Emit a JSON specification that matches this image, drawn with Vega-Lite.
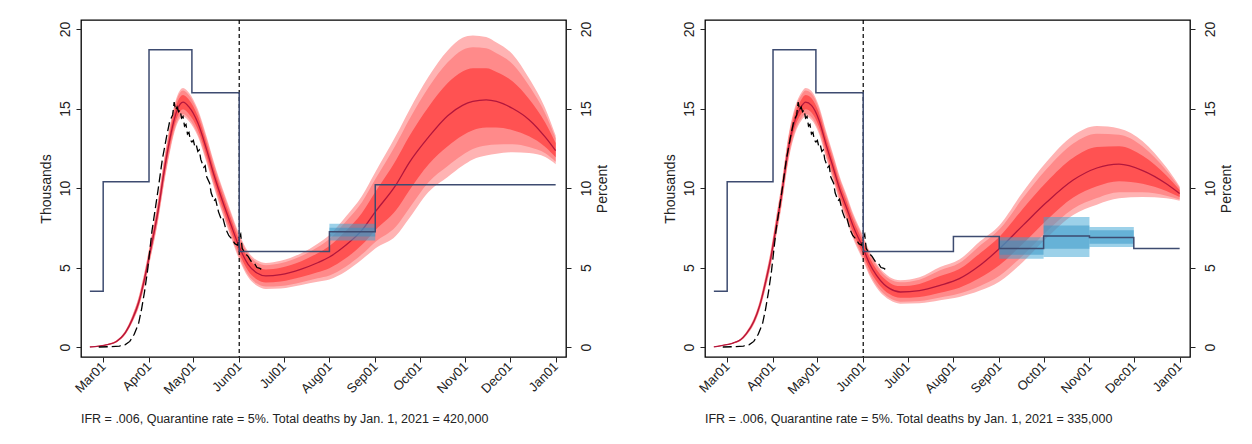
{
"$schema":"https://vega.github.io/schema/vega-lite/v6.json",
"padding":{"left":38,"top":18,"right":5,"bottom":5},
"background":"white",
"config":{"view":{"stroke":"#000","strokeWidth":1.3},"font":"Liberation Sans","axis":{"labelColor":"#222","tickColor":"#222","titleColor":"#222","titleFontWeight":"normal","grid":false,"domain":false,"labelFont":"Liberation Sans","titleFont":"Liberation Sans"}},
"datasets":{
"predA":[
{"date":"2020-02-21","med":0,"olo":0,"ohi":0.02,"mlo":0,"mhi":0.02,"ilo":0,"ihi":0.01},
{"date":"2020-02-27","med":0.05,"olo":0.03,"ohi":0.07,"mlo":0.03,"mhi":0.07,"ilo":0.04,"ihi":0.06},
{"date":"2020-03-04","med":0.15,"olo":0.12,"ohi":0.19,"mlo":0.13,"mhi":0.18,"ilo":0.14,"ihi":0.17},
{"date":"2020-03-10","med":0.35,"olo":0.29,"ohi":0.42,"mlo":0.3,"mhi":0.41,"ilo":0.32,"ihi":0.39},
{"date":"2020-03-16","med":0.9,"olo":0.78,"ohi":1.03,"mlo":0.8,"mhi":1.01,"ilo":0.84,"ihi":0.97},
{"date":"2020-03-21","med":1.8,"olo":1.6,"ohi":2.05,"mlo":1.64,"mhi":2.01,"ilo":1.7,"ihi":1.93},
{"date":"2020-03-25","med":2.8,"olo":2.48,"ohi":3.15,"mlo":2.54,"mhi":3.09,"ilo":2.64,"ihi":2.98},
{"date":"2020-03-29","med":4.3,"olo":3.87,"ohi":4.75,"mlo":3.95,"mhi":4.67,"ilo":4.09,"ihi":4.53},
{"date":"2020-04-02","med":6.1,"olo":5.57,"ohi":6.66,"mlo":5.67,"mhi":6.56,"ilo":5.84,"ihi":6.38},
{"date":"2020-04-07","med":8.5,"olo":7.85,"ohi":9.2,"mlo":7.97,"mhi":9.07,"ilo":8.18,"ihi":8.85},
{"date":"2020-04-12","med":11.5,"olo":10.72,"ohi":12.3,"mlo":10.86,"mhi":12.16,"ilo":11.11,"ihi":11.9},
{"date":"2020-04-16","med":13.5,"olo":12.65,"ohi":14.35,"mlo":12.8,"mhi":14.2,"ilo":13.08,"ihi":13.93},
{"date":"2020-04-20","med":14.9,"olo":14.02,"ohi":15.78,"mlo":14.18,"mhi":15.62,"ilo":14.46,"ihi":15.34},
{"date":"2020-04-24","med":15.4,"olo":14.5,"ohi":16.3,"mlo":14.66,"mhi":16.14,"ilo":14.95,"ihi":15.85},
{"date":"2020-04-28","med":15.1,"olo":14.2,"ohi":16.0,"mlo":14.36,"mhi":15.84,"ilo":14.65,"ihi":15.55},
{"date":"2020-05-04","med":14.1,"olo":13.25,"ohi":14.95,"mlo":13.4,"mhi":14.8,"ilo":13.68,"ihi":14.53},
{"date":"2020-05-10","med":12.4,"olo":11.57,"ohi":13.23,"mlo":11.72,"mhi":13.08,"ilo":11.99,"ihi":12.82},
{"date":"2020-05-15","med":10.8,"olo":10.0,"ohi":11.6,"mlo":10.14,"mhi":11.46,"ilo":10.4,"ihi":11.2},
{"date":"2020-05-21","med":9.1,"olo":8.3,"ohi":9.9,"mlo":8.44,"mhi":9.76,"ilo":8.7,"ihi":9.5},
{"date":"2020-05-26","med":7.8,"olo":7.0,"ohi":8.6,"mlo":7.14,"mhi":8.46,"ilo":7.4,"ihi":8.2},
{"date":"2020-06-01","med":6.3,"olo":5.5,"ohi":7.1,"mlo":5.64,"mhi":6.96,"ilo":5.9,"ihi":6.7},
{"date":"2020-06-07","med":5.2,"olo":4.4,"ohi":6.0,"mlo":4.54,"mhi":5.86,"ilo":4.8,"ihi":5.6},
{"date":"2020-06-13","med":4.65,"olo":3.85,"ohi":5.45,"mlo":3.99,"mhi":5.31,"ilo":4.25,"ihi":5.05},
{"date":"2020-06-19","med":4.47,"olo":3.65,"ohi":5.29,"mlo":3.8,"mhi":5.14,"ilo":4.06,"ihi":4.88},
{"date":"2020-06-29","med":4.55,"olo":3.68,"ohi":5.42,"mlo":3.84,"mhi":5.26,"ilo":4.12,"ihi":4.99},
{"date":"2020-07-13","med":4.9,"olo":3.9,"ohi":5.9,"mlo":4.08,"mhi":5.72,"ilo":4.4,"ihi":5.4},
{"date":"2020-07-24","med":5.3,"olo":4.1,"ohi":6.5,"mlo":4.32,"mhi":6.28,"ilo":4.7,"ihi":5.9},
{"date":"2020-08-01","med":5.66,"olo":4.25,"ohi":7.05,"mlo":4.5,"mhi":6.8,"ilo":4.96,"ihi":6.36},
{"date":"2020-08-12","med":6.4,"olo":4.75,"ohi":8.2,"mlo":5.05,"mhi":7.88,"ilo":5.58,"ihi":7.3},
{"date":"2020-08-23","med":7.35,"olo":5.5,"ohi":9.5,"mlo":5.83,"mhi":9.11,"ilo":6.43,"ihi":8.43},
{"date":"2020-09-01","med":8.5,"olo":6.2,"ohi":11.0,"mlo":6.61,"mhi":10.55,"ilo":7.35,"ihi":9.75},
{"date":"2020-09-15","med":10.2,"olo":7.0,"ohi":13.3,"mlo":7.58,"mhi":12.74,"ilo":8.6,"ihi":11.75},
{"date":"2020-09-24","med":11.6,"olo":8.1,"ohi":14.9,"mlo":8.73,"mhi":14.31,"ilo":9.85,"ihi":13.25},
{"date":"2020-10-07","med":13.2,"olo":9.75,"ohi":17.0,"mlo":10.37,"mhi":16.32,"ilo":11.48,"ihi":15.1},
{"date":"2020-10-20","med":14.55,"olo":10.7,"ohi":18.65,"mlo":11.39,"mhi":17.91,"ilo":12.63,"ihi":16.6},
{"date":"2020-10-30","med":15.2,"olo":11.4,"ohi":19.45,"mlo":12.08,"mhi":18.69,"ilo":13.3,"ihi":17.33},
{"date":"2020-11-06","med":15.45,"olo":11.8,"ohi":19.6,"mlo":12.46,"mhi":18.85,"ilo":13.63,"ihi":17.53},
{"date":"2020-11-15","med":15.55,"olo":12.05,"ohi":19.5,"mlo":12.68,"mhi":18.79,"ilo":13.8,"ihi":17.53},
{"date":"2020-11-22","med":15.45,"olo":12.15,"ohi":19.15,"mlo":12.74,"mhi":18.48,"ilo":13.8,"ihi":17.3},
{"date":"2020-12-03","med":15.0,"olo":12.25,"ohi":18.4,"mlo":12.75,"mhi":17.79,"ilo":13.63,"ihi":16.7},
{"date":"2020-12-14","med":14.3,"olo":12.2,"ohi":16.9,"mlo":12.58,"mhi":16.43,"ilo":13.25,"ihi":15.6},
{"date":"2020-12-25","med":13.2,"olo":11.95,"ohi":15.0,"mlo":12.18,"mhi":14.68,"ilo":12.58,"ihi":14.1},
{"date":"2021-01-01","med":12.35,"olo":11.5,"ohi":13.3,"mlo":11.65,"mhi":13.13,"ilo":11.93,"ihi":12.83}
],
"predB":[
{"date":"2020-02-21","med":0,"olo":0,"ohi":0.02,"mlo":0,"mhi":0.02,"ilo":0,"ihi":0.01},
{"date":"2020-02-27","med":0.1,"olo":0.08,"ohi":0.12,"mlo":0.08,"mhi":0.12,"ilo":0.09,"ihi":0.11},
{"date":"2020-03-05","med":0.25,"olo":0.21,"ohi":0.29,"mlo":0.22,"mhi":0.28,"ilo":0.23,"ihi":0.27},
{"date":"2020-03-10","med":0.45,"olo":0.38,"ohi":0.52,"mlo":0.39,"mhi":0.51,"ilo":0.42,"ihi":0.49},
{"date":"2020-03-14","med":0.84,"olo":0.73,"ohi":0.96,"mlo":0.75,"mhi":0.94,"ilo":0.79,"ihi":0.9},
{"date":"2020-03-19","med":1.6,"olo":1.42,"ohi":1.8,"mlo":1.45,"mhi":1.76,"ilo":1.51,"ihi":1.7},
{"date":"2020-03-23","med":2.6,"olo":2.33,"ohi":2.9,"mlo":2.38,"mhi":2.85,"ilo":2.47,"ihi":2.75},
{"date":"2020-03-27","med":4.1,"olo":3.7,"ohi":4.5,"mlo":3.77,"mhi":4.43,"ilo":3.9,"ihi":4.3},
{"date":"2020-03-30","med":5.35,"olo":4.88,"ohi":5.84,"mlo":4.96,"mhi":5.75,"ilo":5.12,"ihi":5.6},
{"date":"2020-04-03","med":7.5,"olo":6.9,"ohi":8.12,"mlo":7.0,"mhi":8.01,"ilo":7.2,"ihi":7.81},
{"date":"2020-04-06","med":9.1,"olo":8.42,"ohi":9.8,"mlo":8.54,"mhi":9.67,"ilo":8.76,"ihi":9.45},
{"date":"2020-04-12","med":12.8,"olo":12.0,"ohi":13.6,"mlo":12.14,"mhi":13.46,"ilo":12.4,"ihi":13.2},
{"date":"2020-04-16","med":14.3,"olo":13.45,"ohi":15.15,"mlo":13.6,"mhi":15.0,"ilo":13.88,"ihi":14.73},
{"date":"2020-04-20","med":15.1,"olo":14.22,"ohi":15.98,"mlo":14.38,"mhi":15.82,"ilo":14.66,"ihi":15.54},
{"date":"2020-04-23","med":15.4,"olo":14.5,"ohi":16.3,"mlo":14.66,"mhi":16.14,"ilo":14.95,"ihi":15.85},
{"date":"2020-04-27","med":15.2,"olo":14.3,"ohi":16.1,"mlo":14.46,"mhi":15.94,"ilo":14.75,"ihi":15.65},
{"date":"2020-05-02","med":14.3,"olo":13.43,"ohi":15.17,"mlo":13.59,"mhi":15.01,"ilo":13.87,"ihi":14.74},
{"date":"2020-05-07","med":12.7,"olo":11.85,"ohi":13.55,"mlo":12.0,"mhi":13.4,"ilo":12.28,"ihi":13.13},
{"date":"2020-05-12","med":11.2,"olo":10.38,"ohi":12.02,"mlo":10.53,"mhi":11.87,"ilo":10.79,"ihi":11.61},
{"date":"2020-05-16","med":9.96,"olo":9.16,"ohi":10.76,"mlo":9.3,"mhi":10.62,"ilo":9.56,"ihi":10.36},
{"date":"2020-05-21","med":8.7,"olo":7.9,"ohi":9.5,"mlo":8.04,"mhi":9.36,"ilo":8.3,"ihi":9.1},
{"date":"2020-05-25","med":7.65,"olo":6.85,"ohi":8.45,"mlo":6.99,"mhi":8.31,"ilo":7.25,"ihi":8.05},
{"date":"2020-06-01","med":6.2,"olo":5.42,"ohi":6.98,"mlo":5.56,"mhi":6.84,"ilo":5.81,"ihi":6.59},
{"date":"2020-06-05","med":5.3,"olo":4.53,"ohi":6.07,"mlo":4.67,"mhi":5.93,"ilo":4.92,"ihi":5.69},
{"date":"2020-06-10","med":4.5,"olo":3.75,"ohi":5.25,"mlo":3.89,"mhi":5.12,"ilo":4.13,"ihi":4.88},
{"date":"2020-06-15","med":3.95,"olo":3.22,"ohi":4.68,"mlo":3.35,"mhi":4.55,"ilo":3.59,"ihi":4.32},
{"date":"2020-06-19","med":3.67,"olo":2.95,"ohi":4.39,"mlo":3.08,"mhi":4.26,"ilo":3.31,"ihi":4.03},
{"date":"2020-06-26","med":3.46,"olo":2.72,"ohi":4.2,"mlo":2.85,"mhi":4.07,"ilo":3.09,"ihi":3.83},
{"date":"2020-07-09","med":3.55,"olo":2.75,"ohi":4.38,"mlo":2.89,"mhi":4.23,"ilo":3.15,"ihi":3.97},
{"date":"2020-07-23","med":3.88,"olo":2.94,"ohi":5.03,"mlo":3.11,"mhi":4.82,"ilo":3.41,"ihi":4.46},
{"date":"2020-08-05","med":4.3,"olo":3.15,"ohi":5.5,"mlo":3.36,"mhi":5.28,"ilo":3.73,"ihi":4.9},
{"date":"2020-08-19","med":5.14,"olo":3.55,"ohi":6.65,"mlo":3.84,"mhi":6.38,"ilo":4.35,"ihi":5.9},
{"date":"2020-09-01","med":6.18,"olo":4.1,"ohi":7.65,"mlo":4.47,"mhi":7.39,"ilo":5.14,"ihi":6.92},
{"date":"2020-09-17","med":7.65,"olo":5.35,"ohi":9.75,"mlo":5.76,"mhi":9.37,"ilo":6.5,"ihi":8.7},
{"date":"2020-10-03","med":9.1,"olo":6.85,"ohi":11.65,"mlo":7.26,"mhi":11.19,"ilo":7.98,"ihi":10.38},
{"date":"2020-10-21","med":10.5,"olo":8.3,"ohi":13.3,"mlo":8.7,"mhi":12.8,"ilo":9.4,"ihi":11.9},
{"date":"2020-11-06","med":11.26,"olo":8.95,"ohi":13.9,"mlo":9.37,"mhi":13.42,"ilo":10.11,"ihi":12.58},
{"date":"2020-11-21","med":11.5,"olo":9.35,"ohi":13.75,"mlo":9.74,"mhi":13.35,"ilo":10.43,"ihi":12.63},
{"date":"2020-12-07","med":11.1,"olo":9.43,"ohi":12.95,"mlo":9.73,"mhi":12.62,"ilo":10.27,"ihi":12.03},
{"date":"2020-12-23","med":10.27,"olo":9.35,"ohi":11.3,"mlo":9.52,"mhi":11.11,"ilo":9.81,"ihi":10.79},
{"date":"2021-01-01","med":9.65,"olo":9.2,"ohi":10.1,"mlo":9.28,"mhi":10.02,"ilo":9.43,"ihi":9.88}
],
"obs":[
{"date":"2020-02-27","v":0},{"date":"2020-03-06","v":0.02},{"date":"2020-03-12","v":0.06},{"date":"2020-03-16","v":0.15},
{"date":"2020-03-19","v":0.35},{"date":"2020-03-22","v":0.8},{"date":"2020-03-25","v":1.5},{"date":"2020-03-27","v":2.4},
{"date":"2020-03-29","v":3.5},{"date":"2020-03-31","v":4.8},{"date":"2020-04-03","v":7.3},{"date":"2020-04-07","v":9.8},
{"date":"2020-04-10","v":11.8},{"date":"2020-04-13","v":13.3},{"date":"2020-04-15","v":14.2},{"date":"2020-04-17","v":14.6},
{"date":"2020-04-18","v":15.4},{"date":"2020-04-19","v":14.9},{"date":"2020-04-20","v":15.1},{"date":"2020-04-21","v":14.8},
{"date":"2020-04-22","v":14.9},{"date":"2020-04-23","v":14.4},{"date":"2020-04-24","v":14.5},{"date":"2020-04-25","v":13.9},
{"date":"2020-04-26","v":14.0},{"date":"2020-04-27","v":13.4},{"date":"2020-04-28","v":13.5},{"date":"2020-04-29","v":13.0},
{"date":"2020-04-30","v":12.9},{"date":"2020-05-01","v":13.0},{"date":"2020-05-02","v":12.6},{"date":"2020-05-03","v":12.7},
{"date":"2020-05-04","v":12.3},{"date":"2020-05-05","v":12.4},{"date":"2020-05-06","v":11.8},{"date":"2020-05-08","v":11.3},
{"date":"2020-05-09","v":11.4},{"date":"2020-05-10","v":10.7},{"date":"2020-05-12","v":10.3},{"date":"2020-05-13","v":9.7},
{"date":"2020-05-15","v":9.2},{"date":"2020-05-16","v":9.3},{"date":"2020-05-18","v":8.5},{"date":"2020-05-20","v":8.0},
{"date":"2020-05-21","v":8.1},{"date":"2020-05-23","v":7.4},{"date":"2020-05-25","v":7.0},{"date":"2020-05-27","v":6.8},
{"date":"2020-05-29","v":6.5},{"date":"2020-05-31","v":6.4},{"date":"2020-06-01","v":6.9},{"date":"2020-06-02","v":7.1},
{"date":"2020-06-03","v":6.2},{"date":"2020-06-05","v":5.9},{"date":"2020-06-07","v":5.7},{"date":"2020-06-09","v":5.4},
{"date":"2020-06-11","v":5.3},{"date":"2020-06-13","v":5.0},{"date":"2020-06-15","v":4.95},{"date":"2020-06-17","v":4.8}
],
"stepA":[
{"date":"2020-02-21","pct":3.5},{"date":"2020-03-01","pct":10.4},{"date":"2020-04-01","pct":18.7},{"date":"2020-04-30","pct":16.0},
{"date":"2020-06-01","pct":6.0},{"date":"2020-08-01","pct":7.25},{"date":"2020-09-01","pct":10.2},{"date":"2021-01-01","pct":10.2}
],
"stepB":[
{"date":"2020-02-21","pct":3.5},{"date":"2020-03-01","pct":10.4},{"date":"2020-04-01","pct":18.7},{"date":"2020-04-30","pct":16.0},
{"date":"2020-06-01","pct":6.0},{"date":"2020-08-01","pct":6.95},{"date":"2020-09-01","pct":6.2},{"date":"2020-10-01","pct":6.98},
{"date":"2020-11-01","pct":6.88},{"date":"2020-12-01","pct":6.2},{"date":"2021-01-01","pct":6.2}
],
"bandA":[
{"date":"2020-08-01","end":"2020-09-01","olo":6.7,"ohi":7.75,"ilo":6.95,"ihi":7.5}
],
"bandB":[
{"date":"2020-09-01","end":"2020-10-01","olo":5.55,"ohi":6.9,"ilo":5.8,"ihi":6.7},
{"date":"2020-10-01","end":"2020-11-01","olo":5.66,"ohi":8.18,"ilo":6.18,"ihi":7.65},
{"date":"2020-11-01","end":"2020-12-01","olo":6.29,"ohi":7.55,"ilo":6.5,"ihi":7.34}
],
"vline":[{"date":"2020-06-01"}]
},
"hconcat":[
{
"width":485,"height":337,
"title":{"text":"IFR = .006, Quarantine rate = 5%. Total deaths by Jan. 1, 2021 = 420,000","orient":"bottom","anchor":"start","frame":"group","offset":16,"fontSize":12.5,"fontWeight":"normal","color":"#222","font":"Liberation Sans"},
"encoding":{"x":{"field":"date","type":"temporal","title":null,"scale":{"type":"utc","nice":false,"domain":[{"year":2020,"month":2,"date":15,"utc":true},{"year":2021,"month":1,"date":8,"utc":true}]},"axis":{"values":[{"year":2020,"month":3,"date":1,"utc":true},{"year":2020,"month":4,"date":1,"utc":true},{"year":2020,"month":5,"date":1,"utc":true},{"year":2020,"month":6,"date":1,"utc":true},{"year":2020,"month":7,"date":1,"utc":true},{"year":2020,"month":8,"date":1,"utc":true},{"year":2020,"month":9,"date":1,"utc":true},{"year":2020,"month":10,"date":1,"utc":true},{"year":2020,"month":11,"date":1,"utc":true},{"year":2020,"month":12,"date":1,"utc":true},{"year":2021,"month":1,"date":1,"utc":true}],"labelExpr":"utcFormat(datum.value,'%b%d')","labelAngle":-45,"labelAlign":"right","labelBaseline":"middle","labelFontSize":13,"tickSize":5,"labelPadding":2}}},
"layer":[
{"layer":[
{"data":{"name":"predA"},"mark":{"type":"area","color":"#ffb3b3","interpolate":"monotone"},"encoding":{"y":{"field":"olo","type":"quantitative","title":"Thousands","scale":{"domain":[-0.63,20.57],"nice":false,"zero":false},"axis":{"orient":"left","values":[0,5,10,15,20],"labelAngle":-90,"labelAlign":"center","labelBaseline":"bottom","labelFontSize":14,"titleFontSize":14,"labelPadding":4,"titlePadding":5,"tickSize":5}},"y2":{"field":"ohi"}}},
{"data":{"name":"predA"},"mark":{"type":"area","color":"#ff8a8a","interpolate":"monotone"},"encoding":{"y":{"field":"mlo","type":"quantitative","title":"Thousands"},"y2":{"field":"mhi"}}},
{"data":{"name":"predA"},"mark":{"type":"area","color":"#ff5252","interpolate":"monotone"},"encoding":{"y":{"field":"ilo","type":"quantitative","title":"Thousands"},"y2":{"field":"ihi"}}},
{"data":{"name":"predA"},"mark":{"type":"line","color":"#b3173c","strokeWidth":1.3,"interpolate":"monotone"},"encoding":{"y":{"field":"med","type":"quantitative","title":"Thousands"}}},
{"data":{"name":"obs"},"mark":{"type":"line","color":"#000","strokeWidth":1.3,"strokeDash":[9,4]},"encoding":{"y":{"field":"v","type":"quantitative","title":"Thousands"}}},
{"data":{"name":"vline"},"mark":{"type":"rule","color":"#000","strokeDash":[4,3],"strokeWidth":1.2},"encoding":{}}
]},
{"layer":[
{"data":{"name":"bandA"},"mark":{"type":"rect","color":"#3aa3d4","opacity":0.5},"encoding":{"x2":{"field":"end"},"y":{"field":"olo","type":"quantitative","title":"Percent","scale":{"domain":[-0.63,20.57],"nice":false,"zero":false},"axis":{"orient":"right","values":[0,5,10,15,20],"labelAngle":-90,"labelAlign":"center","labelBaseline":"top","labelFontSize":14,"titleFontSize":14,"titleAngle":270,"titleBaseline":"top","labelPadding":8,"titlePadding":2,"tickSize":5}},"y2":{"field":"ohi"}}},
{"data":{"name":"bandA"},"mark":{"type":"rect","color":"#2f93c6","opacity":0.5},"encoding":{"x2":{"field":"end"},"y":{"field":"ilo","type":"quantitative","title":"Percent"},"y2":{"field":"ihi"}}},
{"data":{"name":"stepA"},"mark":{"type":"line","interpolate":"step-after","color":"#3d4b70","strokeWidth":1.5},"encoding":{"y":{"field":"pct","type":"quantitative","title":"Percent"}}}
]}
],
"resolve":{"scale":{"y":"independent"}}
},
{
"width":485,"height":337,
"title":{"text":"IFR = .006, Quarantine rate = 5%. Total deaths by Jan. 1, 2021 = 335,000","orient":"bottom","anchor":"start","frame":"group","offset":16,"fontSize":12.5,"fontWeight":"normal","color":"#222","font":"Liberation Sans"},
"encoding":{"x":{"field":"date","type":"temporal","title":null,"scale":{"type":"utc","nice":false,"domain":[{"year":2020,"month":2,"date":15,"utc":true},{"year":2021,"month":1,"date":8,"utc":true}]},"axis":{"values":[{"year":2020,"month":3,"date":1,"utc":true},{"year":2020,"month":4,"date":1,"utc":true},{"year":2020,"month":5,"date":1,"utc":true},{"year":2020,"month":6,"date":1,"utc":true},{"year":2020,"month":7,"date":1,"utc":true},{"year":2020,"month":8,"date":1,"utc":true},{"year":2020,"month":9,"date":1,"utc":true},{"year":2020,"month":10,"date":1,"utc":true},{"year":2020,"month":11,"date":1,"utc":true},{"year":2020,"month":12,"date":1,"utc":true},{"year":2021,"month":1,"date":1,"utc":true}],"labelExpr":"utcFormat(datum.value,'%b%d')","labelAngle":-45,"labelAlign":"right","labelBaseline":"middle","labelFontSize":13,"tickSize":5,"labelPadding":2}}},
"layer":[
{"layer":[
{"data":{"name":"predB"},"mark":{"type":"area","color":"#ffb3b3","interpolate":"monotone"},"encoding":{"y":{"field":"olo","type":"quantitative","title":"Thousands","scale":{"domain":[-0.63,20.57],"nice":false,"zero":false},"axis":{"orient":"left","values":[0,5,10,15,20],"labelAngle":-90,"labelAlign":"center","labelBaseline":"bottom","labelFontSize":14,"titleFontSize":14,"labelPadding":4,"titlePadding":5,"tickSize":5}},"y2":{"field":"ohi"}}},
{"data":{"name":"predB"},"mark":{"type":"area","color":"#ff8a8a","interpolate":"monotone"},"encoding":{"y":{"field":"mlo","type":"quantitative","title":"Thousands"},"y2":{"field":"mhi"}}},
{"data":{"name":"predB"},"mark":{"type":"area","color":"#ff5252","interpolate":"monotone"},"encoding":{"y":{"field":"ilo","type":"quantitative","title":"Thousands"},"y2":{"field":"ihi"}}},
{"data":{"name":"predB"},"mark":{"type":"line","color":"#b3173c","strokeWidth":1.3,"interpolate":"monotone"},"encoding":{"y":{"field":"med","type":"quantitative","title":"Thousands"}}},
{"data":{"name":"obs"},"mark":{"type":"line","color":"#000","strokeWidth":1.3,"strokeDash":[9,4]},"encoding":{"y":{"field":"v","type":"quantitative","title":"Thousands"}}},
{"data":{"name":"vline"},"mark":{"type":"rule","color":"#000","strokeDash":[4,3],"strokeWidth":1.2},"encoding":{}}
]},
{"layer":[
{"data":{"name":"bandB"},"mark":{"type":"rect","color":"#3aa3d4","opacity":0.5},"encoding":{"x2":{"field":"end"},"y":{"field":"olo","type":"quantitative","title":"Percent","scale":{"domain":[-0.63,20.57],"nice":false,"zero":false},"axis":{"orient":"right","values":[0,5,10,15,20],"labelAngle":-90,"labelAlign":"center","labelBaseline":"top","labelFontSize":14,"titleFontSize":14,"titleAngle":270,"titleBaseline":"top","labelPadding":8,"titlePadding":2,"tickSize":5}},"y2":{"field":"ohi"}}},
{"data":{"name":"bandB"},"mark":{"type":"rect","color":"#2f93c6","opacity":0.5},"encoding":{"x2":{"field":"end"},"y":{"field":"ilo","type":"quantitative","title":"Percent"},"y2":{"field":"ihi"}}},
{"data":{"name":"stepB"},"mark":{"type":"line","interpolate":"step-after","color":"#3d4b70","strokeWidth":1.5},"encoding":{"y":{"field":"pct","type":"quantitative","title":"Percent"}}}
]}
],
"resolve":{"scale":{"y":"independent"}}
}
],
"spacing":52
}
